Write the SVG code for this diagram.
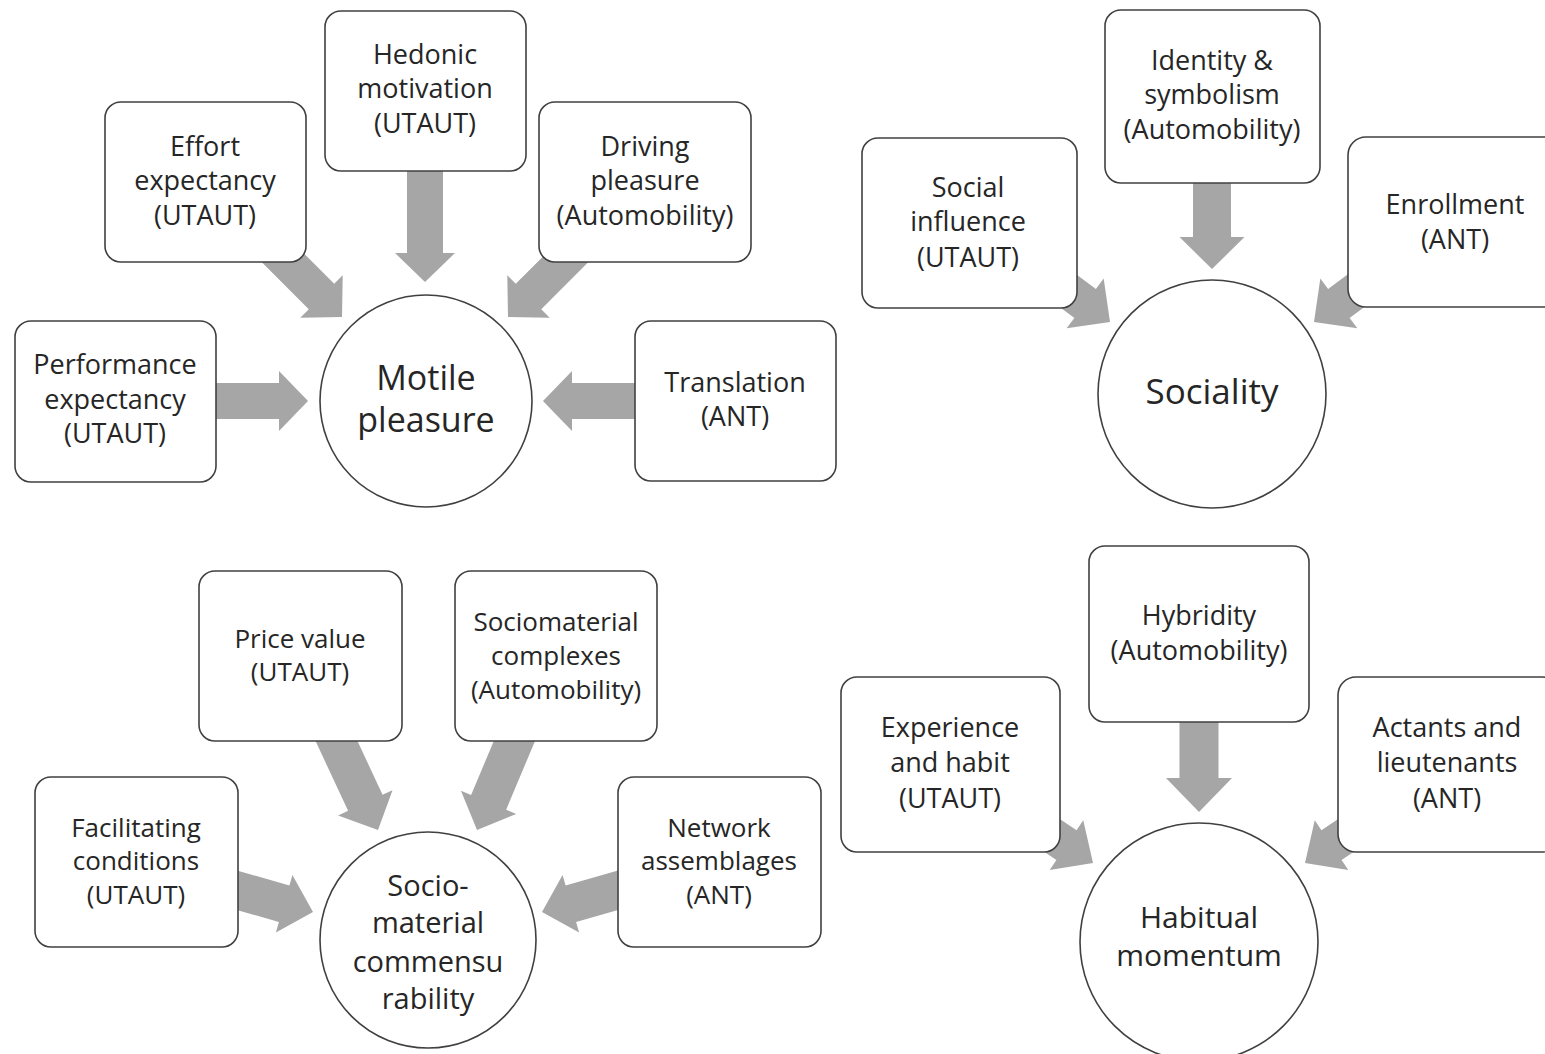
<svg xmlns="http://www.w3.org/2000/svg" width="1545" height="1054" viewBox="0 0 1545 1054">
<style>
.box{fill:#fff;stroke:#404040;stroke-width:1.6}
.arr{fill:#a6a6a6}
text{font-family:"Open Sans","Noto Sans",sans-serif;fill:#262626;text-anchor:middle}
.t{font-size:27px}
.t3{font-size:26px}
.big{font-size:34px}
.big2{font-size:35px}
.mid{font-size:30px}
.mid3{font-size:29px}
</style>
<rect width="1545" height="1054" fill="#fff"/>
<g id="connectors">
<polygon class="arr" transform="translate(425,282) rotate(90)" points="-122,-18 -29,-18 -29,-30 0,0 -29,30 -29,18 -122,18"/>
<polygon class="arr" transform="translate(342,317) rotate(45)" points="-95,-18 -29,-18 -29,-30 0,0 -29,30 -29,18 -95,18"/>
<polygon class="arr" transform="translate(508,317) rotate(135)" points="-95,-18 -29,-18 -29,-30 0,0 -29,30 -29,18 -95,18"/>
<polygon class="arr" transform="translate(308,401) rotate(0)" points="-103,-18 -29,-18 -29,-30 0,0 -29,30 -29,18 -103,18"/>
<polygon class="arr" transform="translate(543,401) rotate(180)" points="-102,-18 -29,-18 -29,-30 0,0 -29,30 -29,18 -102,18"/>
<polygon class="arr" transform="translate(1212,269) rotate(90)" points="-96,-19 -32,-19 -32,-32.5 0,0 -32,32.5 -32,19 -96,19"/>
<polygon class="arr" transform="translate(1110,322) rotate(36.7)" points="-72,-18 -31,-18 -31,-31 0,0 -31,31 -31,18 -72,18"/>
<polygon class="arr" transform="translate(1314,322) rotate(143.3)" points="-72,-18 -31,-18 -31,-31 0,0 -31,31 -31,18 -72,18"/>
<polygon class="arr" transform="translate(378,830) rotate(65)" points="-110,-19 -30,-19 -30,-30 0,0 -30,30 -30,19 -110,19"/>
<polygon class="arr" transform="translate(477,830) rotate(112.8)" points="-110,-19 -30,-19 -30,-30 0,0 -30,30 -30,19 -110,19"/>
<polygon class="arr" transform="translate(313,912) rotate(16)" points="-90,-19 -30,-19 -30,-30 0,0 -30,30 -30,19 -90,19"/>
<polygon class="arr" transform="translate(542,912) rotate(164)" points="-90,-19 -30,-19 -30,-30 0,0 -30,30 -30,19 -90,19"/>
<polygon class="arr" transform="translate(1199,812) rotate(90)" points="-100,-19.5 -34,-19.5 -34,-33 0,0 -34,33 -34,19.5 -100,19.5"/>
<polygon class="arr" transform="translate(1093,863) rotate(34)" points="-75,-18 -32,-18 -32,-30 0,0 -32,30 -32,18 -75,18"/>
<polygon class="arr" transform="translate(1305,863) rotate(146)" points="-75,-18 -32,-18 -32,-30 0,0 -32,30 -32,18 -75,18"/>
</g>

<g id="hedonic">
<rect class="box" x="325" y="11" width="201" height="160" rx="16"/>
<text class="t" x="425" y="64">Hedonic</text>
<text class="t" x="425" y="98">motivation</text>
<text class="t" x="425" y="133">(UTAUT)</text>
</g>
<g id="effort">
<rect class="box" x="105" y="102" width="201" height="160" rx="16"/>
<text class="t" x="205" y="156">Effort</text>
<text class="t" x="205" y="190">expectancy</text>
<text class="t" x="205" y="225">(UTAUT)</text>
</g>
<g id="driving">
<rect class="box" x="539" y="102" width="212" height="160" rx="16"/>
<text class="t" x="645" y="156">Driving</text>
<text class="t" x="645" y="190">pleasure</text>
<text class="t" x="645" y="225">(Automobility)</text>
</g>
<g id="performance">
<rect class="box" x="15" y="321" width="201" height="161" rx="16"/>
<text class="t" x="115" y="374">Performance</text>
<text class="t" x="115" y="409">expectancy</text>
<text class="t" x="115" y="443">(UTAUT)</text>
</g>
<g id="translation">
<rect class="box" x="635" y="321" width="201" height="160" rx="16"/>
<text class="t" x="735" y="392">Translation</text>
<text class="t" x="735" y="426">(ANT)</text>
</g>
<g id="motile">
<circle class="box" cx="426" cy="401" r="106"/>
<text class="big" x="426" y="390">Motile</text>
<text class="big" x="426" y="432">pleasure</text>
</g>

<g id="social-influence">
<rect class="box" x="862" y="138" width="215" height="170" rx="16"/>
<text class="t" x="968" y="197">Social</text>
<text class="t" x="968" y="231">influence</text>
<text class="t" x="968" y="267">(UTAUT)</text>
</g>
<g id="identity">
<rect class="box" x="1105" y="10" width="215" height="173" rx="16"/>
<text class="t" x="1212" y="70">Identity &amp;</text>
<text class="t" x="1212" y="104">symbolism</text>
<text class="t" x="1212" y="139">(Automobility)</text>
</g>
<g id="enrollment">
<rect class="box" x="1348" y="137" width="215" height="170" rx="18"/>
<text class="t" x="1455" y="214">Enrollment</text>
<text class="t" x="1455" y="249">(ANT)</text>
</g>
<g id="sociality">
<circle class="box" cx="1212" cy="394" r="114"/>
<text class="big2" x="1212" y="404">Sociality</text>
</g>

<g id="price">
<rect class="box" x="199" y="571" width="203" height="170" rx="16"/>
<text class="t3" x="300" y="648">Price value</text>
<text class="t3" x="300" y="681">(UTAUT)</text>
</g>
<g id="sociomaterial">
<rect class="box" x="455" y="571" width="202" height="170" rx="16"/>
<text class="t3" x="556" y="631">Sociomaterial</text>
<text class="t3" x="556" y="665">complexes</text>
<text class="t3" x="556" y="699">(Automobility)</text>
</g>
<g id="facilitating">
<rect class="box" x="35" y="777" width="203" height="170" rx="16"/>
<text class="t3" x="136" y="837">Facilitating</text>
<text class="t3" x="136" y="870">conditions</text>
<text class="t3" x="136" y="904">(UTAUT)</text>
</g>
<g id="network">
<rect class="box" x="618" y="777" width="203" height="170" rx="16"/>
<text class="t3" x="719" y="837">Network</text>
<text class="t3" x="719" y="870">assemblages</text>
<text class="t3" x="719" y="904">(ANT)</text>
</g>
<g id="sociomaterial-commensurability">
<circle class="box" cx="428" cy="940" r="108"/>
<text class="mid3" x="428" y="896">Socio-</text>
<text class="mid3" x="428" y="933">material</text>
<text class="mid3" x="428" y="972">commensu</text>
<text class="mid3" x="428" y="1009">rability</text>
</g>

<g id="hybridity">
<rect class="box" x="1089" y="546" width="220" height="176" rx="16"/>
<text class="t" x="1199" y="625">Hybridity</text>
<text class="t" x="1199" y="660">(Automobility)</text>
</g>
<g id="experience">
<rect class="box" x="841" y="677" width="219" height="175" rx="16"/>
<text class="t" x="950" y="737">Experience</text>
<text class="t" x="950" y="772">and habit</text>
<text class="t" x="950" y="808">(UTAUT)</text>
</g>
<g id="actants">
<rect class="box" x="1338" y="677" width="222" height="175" rx="18"/>
<text class="t" x="1447" y="737">Actants and</text>
<text class="t" x="1447" y="772">lieutenants</text>
<text class="t" x="1447" y="808">(ANT)</text>
</g>
<g id="habitual">
<circle class="box" cx="1199" cy="942" r="119"/>
<text class="mid" x="1199" y="928">Habitual</text>
<text class="mid" x="1199" y="966">momentum</text>
</g>
</svg>
